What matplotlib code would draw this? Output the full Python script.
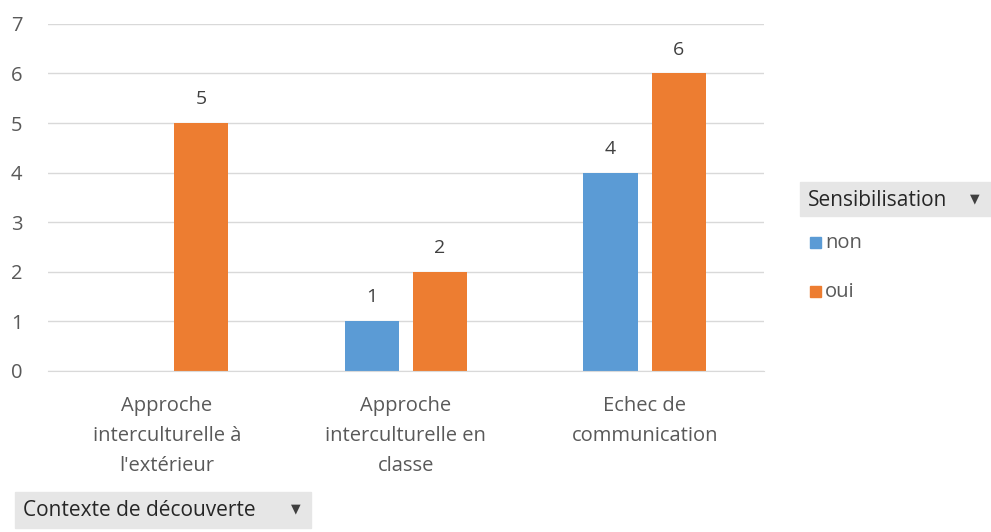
import numpy as np
import matplotlib.pyplot as plt
from matplotlib.patches import Rectangle

plt.rcParams['font.family'] = ['Open Sans', 'DejaVu Sans']

categories = ["Approche\ninterculturelle à\nl'extérieur",
              "Approche\ninterculturelle en\nclasse",
              "Echec de\ncommunication"]
non = [0, 1, 4]
oui = [5, 2, 6]
series_names = ["non", "oui"]

blue = "#5B9BD5"
orange = "#ED7D31"
grey_text = "#595959"

fig = plt.figure(figsize=(9.91, 5.32), dpi=100)
ax = fig.add_axes([0.048, 0.303, 0.723, 0.652])

x = np.arange(len(categories))
w = 0.227
off = 0.143

bars_non = ax.bar(x - off, non, w, color=blue)
bars_oui = ax.bar(x + off, oui, w, color=orange)

for bars, vals in [(bars_non, non), (bars_oui, oui)]:
    for b, v in zip(bars, vals):
        if v == 0:
            continue
        ax.text(b.get_x() + b.get_width() / 2, v + 0.3, str(v),
                ha="center", va="bottom", fontsize=14, color="#404040")

ax.set_xlim(-0.5, 2.5)
ax.set_ylim(0, 7)
ax.set_yticks(range(8))
ax.yaxis.grid(True, color="#D9D9D9", linewidth=1)
ax.set_axisbelow(True)
for s in ax.spines.values():
    s.set_visible(False)
ax.spines["bottom"].set_visible(True)
ax.spines["bottom"].set_color("#D9D9D9")
ax.tick_params(axis="both", length=0, labelsize=14.5, colors=grey_text)
ax.tick_params(axis="y", pad=18)
ax.set_xticks(x)
ax.set_xticklabels(categories, linespacing=1.68)
ax.tick_params(axis="x", pad=18)

# legend-like field button
fig.patches.append(Rectangle((800 / 991, 1 - 216 / 532), 191 / 991, 34 / 532,
                             transform=fig.transFigure, color="#E6E6E6", zorder=0))
fig.text(808 / 991, 1 - 200 / 532, "Sensibilisation", fontsize=15,
         color="#262626", va="center", ha="left")
fig.text(975 / 991, 1 - 199 / 532, "▼", fontsize=9, color="#404040",
         va="center", ha="center")
for name, col, yy in [(series_names[0], blue, 243), (series_names[1], orange, 292)]:
    fig.patches.append(Rectangle((810 / 991, 1 - (yy + 5) / 532), 11 / 991, 11 / 532,
                                 transform=fig.transFigure, color=col))
    fig.text(825 / 991, 1 - yy / 532, name, fontsize=14.5, color=grey_text,
             va="center", ha="left")

# axis field button
fig.patches.append(Rectangle((15 / 991, 1 - 528 / 532), 296 / 991, 36 / 532,
                             transform=fig.transFigure, color="#E6E6E6", zorder=0))
fig.text(23 / 991, 1 - 510 / 532, "Contexte de découverte", fontsize=15,
         color="#262626", va="center", ha="left")
fig.text(296 / 991, 1 - 509 / 532, "▼", fontsize=9, color="#404040",
         va="center", ha="center")

fig.savefig("out.png", dpi=100)
